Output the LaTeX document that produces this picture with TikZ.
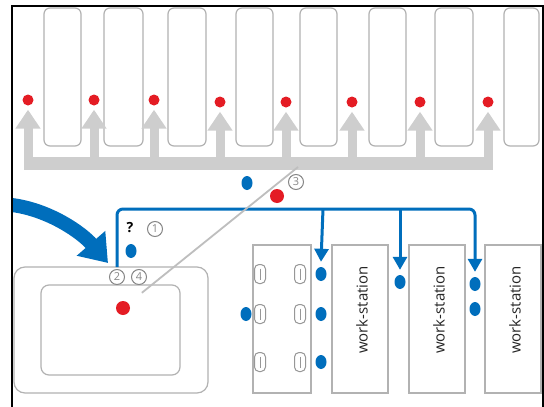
\documentclass[tikz,border=0pt]{standalone}
\usepackage{fontspec}
\setmainfont{Open Sans}
\usetikzlibrary{arrows.meta,shapes.geometric}
\definecolor{bl}{RGB}{0,110,188}
\definecolor{rd}{RGB}{228,28,36}
\definecolor{gbox}{RGB}{178,178,178}
\definecolor{garr}{RGB}{206,206,206}
\definecolor{gnum}{RGB}{135,135,135}
\tikzset{
  topbox/.style={draw=gbox, line width=1.2pt, rounded corners=6pt, minimum width=37pt, minimum height=138pt, inner sep=0pt},
  sqbox/.style={draw=gbox, line width=1.1pt, inner sep=0pt},
  reddot/.style={circle, fill=rd, inner sep=0pt, minimum size=11pt},
  bluedot/.style={ellipse, fill=bl, inner sep=0pt, minimum width=11pt, minimum height=14pt},
  garrow/.style={draw=garr, line width=9pt, -{Triangle[width=24pt,length=19pt]}},
  barrow/.style={draw=bl, line width=3pt, -{Triangle[width=14pt,length=13pt]}},
  cnum/.style={circle, draw=gnum, line width=1pt, inner sep=0pt, minimum size=15pt, text=gnum, font=\fontsize{11}{11}\selectfont},
  port/.style={draw=gbox!85!black, line width=1pt, rounded corners=4.5pt, minimum width=11pt, minimum height=19pt, inner sep=0pt,
    path picture={\draw[gbox!85!black, line width=0.8pt] ([yshift=-4pt]path picture bounding box.north) -- ([yshift=4pt]path picture bounding box.south);}},
  wslabel/.style={rotate=90, font=\fontsize{15}{15}\selectfont, text=black!85}
}
\begin{document}
\begin{tikzpicture}[x=1pt,y=-1pt]
\useasboundingbox (0,0) rectangle (544,407);
\fill[white] (0,0) rectangle (544,407);

% top boxes
\foreach \n/\xa/\xb in {1/44/81, 2/104/143, 3/168/206, 4/236/273, 5/300/337, 6/369/406, 7/435/473, 8/504/539}{
  \node[topbox, minimum width={(\xb-\xa)*1pt}] (t\n) at ({(\xa+\xb)/2}, 77) {};
}

% gray bus and arrows
\node[fill=garr, inner sep=0pt, minimum width=469pt, minimum height=13pt] (gbus) at (258.5,163.5) {};
\foreach \n/\x/\y in {1/28/100, 2/94/100, 3/154/100, 4/220/102, 5/286/102, 6/352/102, 7/420/102, 8/488/102}{
  \node[reddot] (r\n) at (\x,\y) {};
  \coordinate (gb\n) at (\x,160);
  \draw[garrow] (gb\n) -- ([yshift=-4pt]r\n.south);
}

% lower left boxes
\node[draw=gbox, line width=1.2pt, rounded corners=11pt, minimum width=194pt, minimum height=126pt, inner sep=0pt] (outer) at (111,330) {};
\node[draw=gbox, line width=1.2pt, rounded corners=8pt, minimum width=139pt, minimum height=90pt, inner sep=0pt] (inner) at (110.5,330) {};

% patch panel and work-stations
\node[sqbox, minimum width=58pt, minimum height=148pt] (panel) at (282,319) {};
\node[sqbox, minimum width=56pt, minimum height=148pt] (ws1) at (360,319) {};
\node[sqbox, minimum width=56pt, minimum height=148pt] (ws2) at (437,319) {};
\node[sqbox, minimum width=56pt, minimum height=148pt] (ws3) at (513,319) {};
\node[wslabel] (l1) at (362,310) {work-station};
\node[wslabel] (l2) at (439,310) {work-station};
\node[wslabel] (l3) at (515,310) {work-station};

% ports
\foreach \c/\x in {a/260, b/300}{
  \foreach \r/\y in {1/274, 2/314, 3/362}{
    \node[port] (p\c\r) at (\x,\y) {};
  }
}

% blue dots
\node[bluedot] (d1) at (321,274) {};
\node[bluedot] (d2) at (321,314) {};
\node[bluedot] (d3) at (321,362) {};
\node[bluedot] (d4) at (246,314) {};
\node[bluedot] (d5) at (400,282) {};
\node[bluedot] (d6) at (475,284) {};
\node[bluedot] (d7) at (475,309) {};
\node[bluedot] (dq) at (131,251) {};
\node[bluedot] (dc) at (247,183) {};

% red dots
\node[reddot, minimum size=14pt] (rc) at (277,196) {};
\node[reddot, minimum size=14pt] (rb) at (123,308) {};

% labels
\node[font=\bfseries\fontsize{14}{14}\selectfont, inner sep=0pt] (q) at (130,228) {?};
\node[cnum] (n1) at (155,229) {1};
\node[cnum] (n2) at (117,277) {2};
\node[cnum] (n4) at (139,277) {4};
\node[cnum] (n3) at (296,182) {3};

% blue connectors
\coordinate (bs) at (117,267);
\coordinate (bj1) at (323,209);
\coordinate (bj2) at (400,209);
\draw[barrow, rounded corners=6pt] (bs) -- (117,209) -- (475,209) -- ([yshift=5pt]d6.north);
\draw[barrow] (bj1) -- ([yshift=5pt]d1.north);
\draw[barrow] (bj2) -- ([yshift=5pt]d5.north);

% big blue arrow
\coordinate (ba) at (12,205);
\coordinate (bt) at (108,263);
\draw[draw=bl, line width=14pt, -{Triangle[width=36pt,length=26pt]}] (ba) .. controls (50,210) and (82,233) .. (bt);

% gray diagonal
\coordinate (gd) at (298,167);
\draw[draw=garr!92!black, line width=1.8pt, shorten <=17pt] (rb) -- (gd);

% frame
\draw[black, line width=2pt] (12,407) -- (12,6) -- (543,6) -- (543,407);
\end{tikzpicture}
\end{document}
